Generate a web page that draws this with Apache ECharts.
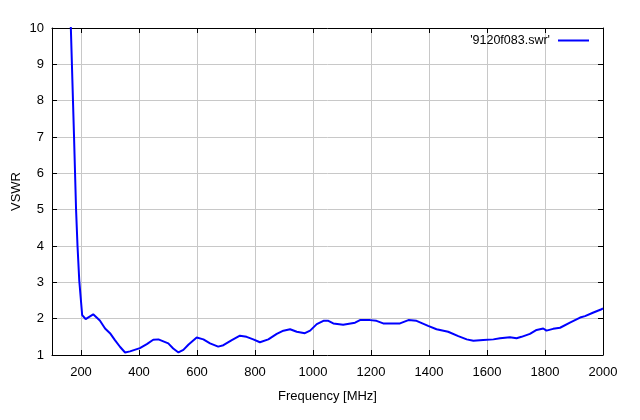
<!DOCTYPE html>
<html><head><meta charset="utf-8">
<script src="https://cdn.jsdelivr.net/npm/echarts@6/dist/echarts.min.js"></script>
<style>html,body{margin:0;padding:0;background:#fff}#c{width:640px;height:420px}</style>
</head><body><div id="c"></div>
<script>
const freq = [160,165,176,183,188,194,204,216,242,248,265,283,300,317,335,352,369,403,427,449,467,501,518,536,553,571,599,622,645,673,691,720,748,771,794,817,846,875,898,921,944,972,990,1013,1036,1053,1070,1104,1145,1162,1197,1219,1242,1300,1329,1357,1397,1426,1466,1501,1530,1553,1587,1622,1645,1679,1702,1719,1748,1771,1794,1805,1828,1852,1886,1921,1938,1967,1995,2000];
const vswr = [10.6,10.0,7.0,5.0,4.0,3.05,2.1,1.99,2.12,2.12,1.95,1.73,1.60,1.41,1.22,1.07,1.10,1.19,1.30,1.42,1.43,1.32,1.18,1.07,1.14,1.29,1.48,1.43,1.32,1.23,1.27,1.41,1.53,1.50,1.43,1.35,1.43,1.58,1.67,1.71,1.64,1.60,1.67,1.85,1.94,1.94,1.87,1.83,1.89,1.96,1.96,1.94,1.87,1.87,1.96,1.94,1.80,1.71,1.64,1.52,1.43,1.39,1.41,1.43,1.46,1.49,1.46,1.50,1.58,1.69,1.73,1.67,1.72,1.75,1.89,2.03,2.07,2.17,2.26,2.28];
const xTickValues = [200,400,600,800,1000,1200,1400,1600,1800,2000];
const yTickValues = [1,2,3,4,5,6,7,8,9,10];
const xRange = [100, 2000];
const yRange = [1, 10];
const seriesName = "'9120f083.swr'";

const font = 'Liberation Sans, Arial, sans-serif';
const chart = echarts.init(document.getElementById('c'), null, {renderer:'canvas'});
const tickStyle = vals => ({show:true, inside:true, length:5, customValues:vals, lineStyle:{color:'#000', width:1}});
const grid = {show:true, lineStyle:{color:'#c8c8c8', width:1, type:'solid'}};
chart.setOption({
  animation:false,
  backgroundColor:'#fff',
  grid:{left:52, right:37, top:28, bottom:65, containLabel:false},
  legend:{
    right:46, top:29, align:'right', icon:'rect', itemWidth:31, itemHeight:2, itemGap:0,
    textStyle:{fontFamily:font, fontSize:12.5, color:'#000', padding:[0,3,0,0]},
    data:[{name:seriesName}]
  },
  xAxis:[{
    type:'value', min:xRange[0], max:xRange[1],
    name:'Frequency [MHz]', nameLocation:'middle', nameGap:35, nameMoveOverlap:false,
    nameTextStyle:{fontFamily:font, fontSize:13, color:'#000'},
    axisLine:{show:true, lineStyle:{color:'#000', width:1}},
    axisTick:tickStyle(xTickValues), splitLine:grid,
    axisLabel:{fontFamily:font, fontSize:13, color:'#000', margin:11, customValues:xTickValues, formatter:v=>String(v)}
  },{
    type:'value', position:'top', min:xRange[0], max:xRange[1],
    axisLine:{show:true, lineStyle:{color:'#000', width:1}},
    axisTick:tickStyle(xTickValues), axisLabel:{show:false, customValues:xTickValues}, splitLine:{show:false}
  }],
  yAxis:[{
    type:'value', min:yRange[0], max:yRange[1], interval:1,
    name:'VSWR', nameLocation:'middle', nameGap:29, nameRotate:90, nameMoveOverlap:false,
    nameTextStyle:{fontFamily:font, fontSize:13, color:'#000'},
    axisLine:{show:true, lineStyle:{color:'#000', width:1}},
    axisTick:tickStyle(yTickValues), splitLine:grid,
    axisLabel:{fontFamily:font, fontSize:13, color:'#000', margin:8, customValues:yTickValues, formatter:v=>String(v)}
  },{
    type:'value', position:'right', min:yRange[0], max:yRange[1], interval:1,
    axisLine:{show:true, lineStyle:{color:'#000', width:1}},
    axisTick:tickStyle(yTickValues), axisLabel:{show:false, customValues:yTickValues}, splitLine:{show:false}
  }],
  series:[{
    name:seriesName, type:'line', showSymbol:false, symbol:'none', clip:true,
    data:freq.map((f,i)=>[f, vswr[i]]),
    lineStyle:{color:'#0000ff', width:2}, itemStyle:{color:'#0000ff'}
  }]
});
</script></body></html>
